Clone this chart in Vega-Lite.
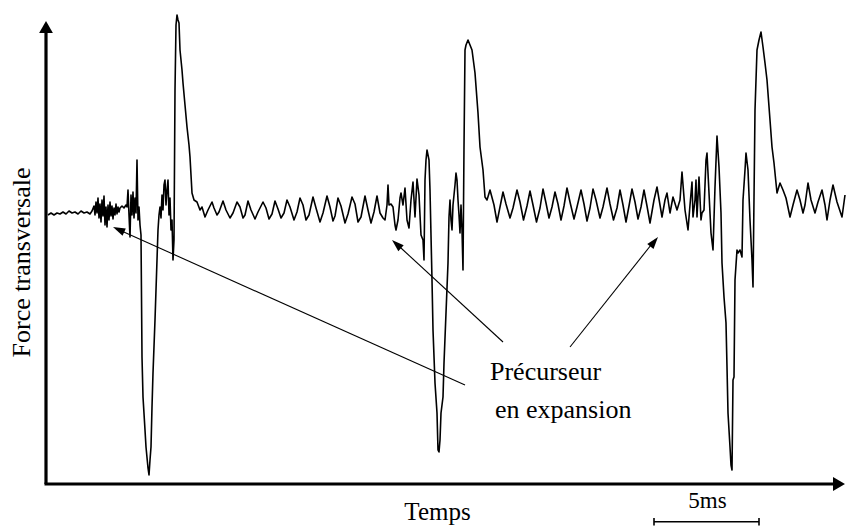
{
 "$schema": "https://vega.github.io/schema/vega-lite/v6.json",
 "width": 847, "height": 527,
 "autosize": {"type": "fit", "contains": "padding"},
 "padding": 0,
 "background": "white",
 "config": {"view": {"stroke": null}, "text": {"font": "'Liberation Serif', 'Times New Roman', serif"}},
 "datasets": {
  "signal": [
   {"t":48,"f":-5},{"t":51,"f":-3},{"t":54,"f":-5},{"t":57,"f":-3},{"t":60,"f":-4},{"t":63,"f":-2},{"t":66,"f":-4},{"t":69,"f":-1},{"t":72,"f":-3},{"t":75,"f":-2},{"t":78,"f":-4},{"t":81,"f":-1},{"t":84,"f":-3},{"t":87,"f":-2},{"t":90,"f":-4},{"t":92,"f":-1},
   {"t":94,"f":4},{"t":95,"f":-5},{"t":96,"f":8},{"t":97,"f":-3},{"t":98,"f":12},{"t":99,"f":-8},{"t":100,"f":6},{"t":101,"f":-12},{"t":102,"f":10},{"t":103,"f":-6},{"t":104,"f":14},{"t":105,"f":-15},{"t":106,"f":3},{"t":107,"f":-17},{"t":108,"f":5},{"t":109,"f":-10},{"t":110,"f":8},{"t":111,"f":-6},{"t":112,"f":4},{"t":113,"f":-9},{"t":114,"f":2},{"t":115,"f":-5},{"t":116,"f":6},{"t":117,"f":-4},{"t":118,"f":3},{"t":119,"f":-2},{"t":120,"f":2},
   {"t":122,"f":4},{"t":124,"f":2},{"t":126,"f":5},
   {"t":127,"f":3},{"t":128,"f":20},{"t":129,"f":-5},{"t":130,"f":-27},{"t":131,"f":15},{"t":132,"f":-5},{"t":133,"f":18},{"t":134,"f":-8},{"t":135,"f":12},{"t":136,"f":-3},{"t":137,"f":50},{"t":138,"f":-10},{"t":139,"f":3},{"t":140,"f":-15},{"t":141,"f":-25},{"t":142,"f":-147},{"t":143,"f":-187},{"t":145,"f":-220},{"t":146,"f":-237},{"t":148,"f":-258},{"t":149,"f":-265},{"t":150,"f":-250},{"t":151,"f":-237},{"t":152,"f":-197},{"t":153,"f":-163},{"t":155,"f":-110},{"t":157,"f":-50},{"t":158,"f":-20},{"t":159,"f":-5},{"t":160,"f":3},{"t":161,"f":-8},{"t":162,"f":15},{"t":163,"f":0},{"t":164,"f":25},{"t":165,"f":30},{"t":166,"f":5},{"t":167,"f":20},{"t":168,"f":30},{"t":169,"f":-5},{"t":170,"f":12},{"t":171,"f":-20},{"t":172,"f":-10},{"t":173,"f":-50},{"t":174,"f":-30},{"t":175,"f":120},{"t":176,"f":185},{"t":177,"f":195},{"t":178,"f":190},{"t":179,"f":187},{"t":180,"f":160},{"t":182,"f":140},{"t":183,"f":127},{"t":185,"f":105},{"t":187,"f":83},{"t":189,"f":65},{"t":190,"f":53},{"t":191,"f":35},{"t":192,"f":17},
   {"t":194,"f":10},{"t":197,"f":8},{"t":200,"f":0},{"t":202,"f":3},{"t":205,"f":-7},{"t":208,"f":0},{"t":212,"f":8},{"t":214,"f":2},{"t":217,"f":-5},{"t":219,"f":-2},{"t":223,"f":9},{"t":226,"f":0},{"t":230,"f":-8},{"t":233,"f":-3},{"t":237,"f":8},{"t":240,"f":3},{"t":243,"f":-8},{"t":245,"f":-5},{"t":248,"f":9},{"t":251,"f":0},{"t":255,"f":-9},{"t":258,"f":-2},{"t":263,"f":8},{"t":266,"f":2},{"t":269,"f":-9},{"t":272,"f":-4},{"t":275,"f":9},{"t":278,"f":1},{"t":281,"f":-8},{"t":284,"f":-3},{"t":287,"f":10},{"t":290,"f":3},{"t":294,"f":-10},{"t":297,"f":-2},
   {"t":300,"f":12},{"t":303,"f":5},{"t":306,"f":-10},{"t":309,"f":-5},{"t":313,"f":13},{"t":316,"f":2},{"t":320,"f":-12},{"t":323,"f":-3},{"t":327,"f":14},{"t":330,"f":3},{"t":333,"f":-11},{"t":335,"f":-6},{"t":338,"f":12},{"t":341,"f":4},{"t":345,"f":-13},{"t":348,"f":-4},{"t":352,"f":13},{"t":355,"f":6},{"t":358,"f":-12},{"t":361,"f":-7},{"t":365,"f":14},{"t":368,"f":0},{"t":371,"f":-13},{"t":374,"f":-2},{"t":377,"f":14},{"t":380,"f":-3},
   {"t":383,"f":-8},{"t":385,"f":-10},{"t":387,"f":5},{"t":388,"f":25},{"t":389,"f":5},{"t":391,"f":6},{"t":393,"f":3},{"t":395,"f":-15},{"t":396,"f":-20},{"t":398,"f":-10},{"t":400,"f":12},{"t":401,"f":17},{"t":403,"f":5},{"t":405,"f":22},{"t":407,"f":-10},{"t":409,"f":-18},{"t":411,"f":10},{"t":413,"f":28},{"t":415,"f":-7},{"t":417,"f":31},{"t":419,"f":15},{"t":421,"f":-25},{"t":423,"f":-30},{"t":424,"f":-50},{"t":425,"f":30},{"t":426,"f":50},{"t":427,"f":60},{"t":429,"f":50},{"t":430,"f":20},{"t":432,"f":-70},{"t":433,"f":-120},{"t":435,"f":-173},{"t":437,"f":-203},{"t":438,"f":-240},{"t":439,"f":-242},{"t":440,"f":-230},{"t":441,"f":-203},{"t":443,"f":-187},{"t":444,"f":-153},{"t":446,"f":-103},{"t":448,"f":-53},{"t":449,"f":-7},{"t":450,"f":10},{"t":451,"f":-10},{"t":452,"f":-20},{"t":453,"f":5},{"t":454,"f":15},{"t":455,"f":25},{"t":456,"f":37},{"t":457,"f":30},{"t":458,"f":10},{"t":459,"f":-5},{"t":460,"f":-23},{"t":461,"f":5},{"t":462,"f":-20},{"t":463,"f":-60},{"t":464,"f":63},{"t":465,"f":160},{"t":466,"f":165},{"t":468,"f":170},{"t":470,"f":165},{"t":472,"f":160},{"t":475,"f":137},{"t":478,"f":97},{"t":480,"f":63},{"t":483,"f":40},{"t":485,"f":13},{"t":487,"f":10},{"t":490,"f":20},
   {"t":494,"f":5},{"t":497,"f":-12},{"t":500,"f":3},{"t":503,"f":18},{"t":506,"f":6},{"t":510,"f":-8},{"t":513,"f":2},{"t":517,"f":20},{"t":520,"f":8},{"t":523.5,"f":-10},{"t":527,"f":4},{"t":530,"f":19},{"t":533,"f":5},{"t":536.5,"f":-12},{"t":540,"f":2},{"t":543,"f":21},{"t":546,"f":7},{"t":549,"f":-8},{"t":552,"f":3},{"t":555,"f":18},{"t":558,"f":6},{"t":561,"f":-10},{"t":564,"f":4},{"t":567,"f":22},{"t":570,"f":8},{"t":574,"f":-9},{"t":577,"f":3},{"t":581,"f":20},{"t":584,"f":6},{"t":587,"f":-11},{"t":590,"f":2},{"t":593,"f":21},{"t":596,"f":10},{"t":600,"f":-8},{"t":603,"f":3},{"t":607,"f":22},{"t":610,"f":6},{"t":613.5,"f":-10},{"t":617,"f":2},{"t":620,"f":20},{"t":623,"f":5},{"t":626,"f":-12},{"t":629,"f":4},{"t":632,"f":21},{"t":635,"f":8},{"t":638,"f":-9},{"t":641,"f":3},{"t":644,"f":20},{"t":647,"f":4},{"t":650,"f":-13},
   {"t":654,"f":10},{"t":657,"f":23},{"t":660,"f":5},{"t":662,"f":-7},{"t":665,"f":10},{"t":667,"f":17},{"t":670,"f":-3},{"t":673,"f":13},{"t":677,"f":0},{"t":680,"f":10},{"t":682,"f":38},{"t":685,"f":0},{"t":688,"f":-20},{"t":690,"f":5},{"t":692,"f":28},{"t":693,"f":-7},{"t":695,"f":10},{"t":696,"f":30},{"t":697,"f":-7},{"t":699,"f":33},{"t":701,"f":-10},{"t":702,"f":-3},{"t":704,"f":0},{"t":706,"f":50},{"t":707,"f":57},{"t":709,"f":17},{"t":711,"f":-23},{"t":713,"f":-40},{"t":715,"f":23},{"t":717,"f":74},{"t":719,"f":43},{"t":721,"f":-3},{"t":722,"f":-53},{"t":724,"f":-87},{"t":726,"f":-113},{"t":727,"f":-157},{"t":728,"f":-203},{"t":730,"f":-237},{"t":731,"f":-255},{"t":732,"f":-260},{"t":733,"f":-170},{"t":734,"f":-167},{"t":735,"f":-70},{"t":737,"f":-40},{"t":738,"f":-43},{"t":740,"f":-40},{"t":742,"f":-47},{"t":743,"f":10},{"t":745,"f":40},{"t":746,"f":57},{"t":748,"f":40},{"t":750,"f":-10},{"t":752,"f":-50},{"t":753,"f":-77},{"t":755,"f":100},{"t":757,"f":160},{"t":759,"f":170},{"t":761,"f":178},{"t":763,"f":163},{"t":765,"f":147},{"t":767,"f":130},{"t":770,"f":90},{"t":772,"f":63},{"t":774,"f":47},{"t":777,"f":17},
   {"t":780,"f":27},{"t":783,"f":20},{"t":786,"f":12},{"t":790,"f":-7},{"t":793,"f":5},{"t":797,"f":20},{"t":800,"f":10},{"t":803,"f":-3},{"t":805,"f":5},{"t":808,"f":27},{"t":811,"f":10},{"t":815,"f":-3},{"t":818,"f":8},{"t":822,"f":20},{"t":825,"f":5},{"t":827,"f":-10},{"t":830,"f":10},{"t":833,"f":25},{"t":837,"f":8},{"t":842,"f":-7},{"t":845,"f":15}
  ],
  "axes": [
   {"t":46,"f":-274,"t2":46,"f2":180},
   {"t":44.5,"f":-274,"t2":836,"f2":-274}
  ],
  "pointers": [
   {"t":116,"f":-18.5,"t2":465,"f2":-175},
   {"t":395,"f":-32.5,"t2":503,"f2":-132},
   {"t":655,"f":-30,"t2":570,"f2":-137}
  ],
  "scalebar": [
   {"t":654,"f":-311.7,"t2":759,"f2":-311.7},
   {"t":654,"f":-308,"t2":654,"f2":-315.5},
   {"t":759,"f":-308,"t2":759,"f2":-315.5}
  ]
 },
 "layer": [
  {
   "data": {"name": "signal"},
   "mark": {"type": "line", "color": "black", "strokeWidth": 1.6, "strokeJoin": "round"},
   "encoding": {
    "x": {"field": "t", "type": "quantitative", "scale": {"domain": [0, 847], "nice": false, "zero": false}, "axis": null},
    "y": {"field": "f", "type": "quantitative", "scale": {"domain": [-317, 210], "nice": false, "zero": false}, "axis": null}
   }
  },
  {
   "data": {"name": "axes"},
   "mark": {"type": "rule", "color": "black", "strokeWidth": 3.2},
   "encoding": {
    "x": {"field": "t", "type": "quantitative", "scale": {"domain": [0, 847], "nice": false, "zero": false}, "axis": null},
    "y": {"field": "f", "type": "quantitative", "scale": {"domain": [-317, 210], "nice": false, "zero": false}, "axis": null},
    "x2": {"field": "t2"}, "y2": {"field": "f2"}
   }
  },
  {
   "data": {"name": "pointers"},
   "mark": {"type": "rule", "color": "black", "strokeWidth": 1.1},
   "encoding": {
    "x": {"field": "t", "type": "quantitative", "scale": {"domain": [0, 847], "nice": false, "zero": false}, "axis": null},
    "y": {"field": "f", "type": "quantitative", "scale": {"domain": [-317, 210], "nice": false, "zero": false}, "axis": null},
    "x2": {"field": "t2"}, "y2": {"field": "f2"}
   }
  },
  {
   "data": {"name": "scalebar"},
   "mark": {"type": "rule", "color": "black", "strokeWidth": 1.6},
   "encoding": {
    "x": {"field": "t", "type": "quantitative", "scale": {"domain": [0, 847], "nice": false, "zero": false}, "axis": null},
    "y": {"field": "f", "type": "quantitative", "scale": {"domain": [-317, 210], "nice": false, "zero": false}, "axis": null},
    "x2": {"field": "t2"}, "y2": {"field": "f2"}
   }
  },
  {
   "data": {"values": [{"t": 46, "f": 183}]},
   "mark": {"type": "point", "shape": "triangle-up", "size": 190, "filled": true, "color": "black", "opacity": 1, "strokeWidth": 0},
   "encoding": {
    "x": {"field": "t", "type": "quantitative", "scale": {"domain": [0, 847], "nice": false, "zero": false}, "axis": null},
    "y": {"field": "f", "type": "quantitative", "scale": {"domain": [-317, 210], "nice": false, "zero": false}, "axis": null}
   }
  },
  {
   "data": {"values": [{"t": 839, "f": -274}]},
   "mark": {"type": "point", "shape": "triangle-right", "size": 190, "filled": true, "color": "black", "opacity": 1, "strokeWidth": 0},
   "encoding": {
    "x": {"field": "t", "type": "quantitative", "scale": {"domain": [0, 847], "nice": false, "zero": false}, "axis": null},
    "y": {"field": "f", "type": "quantitative", "scale": {"domain": [-317, 210], "nice": false, "zero": false}, "axis": null}
   }
  },
  {
   "data": {"values": [{"t": 118.6, "f": -19.5}]},
   "mark": {"type": "point", "shape": "M0,-1L-0.65,1L0.65,1Z", "size": 150, "angle": 294.2, "filled": true, "color": "black", "opacity": 1, "strokeWidth": 0},
   "encoding": {
    "x": {"field": "t", "type": "quantitative", "scale": {"domain": [0, 847], "nice": false, "zero": false}, "axis": null},
    "y": {"field": "f", "type": "quantitative", "scale": {"domain": [-317, 210], "nice": false, "zero": false}, "axis": null}
   }
  },
  {
   "data": {"values": [{"t": 396.5, "f": -34.1}]},
   "mark": {"type": "point", "shape": "M0,-1L-0.65,1L0.65,1Z", "size": 150, "angle": 312.6, "filled": true, "color": "black", "opacity": 1, "strokeWidth": 0},
   "encoding": {
    "x": {"field": "t", "type": "quantitative", "scale": {"domain": [0, 847], "nice": false, "zero": false}, "axis": null},
    "y": {"field": "f", "type": "quantitative", "scale": {"domain": [-317, 210], "nice": false, "zero": false}, "axis": null}
   }
  },
  {
   "data": {"values": [{"t": 654.2, "f": -31.8}]},
   "mark": {"type": "point", "shape": "M0,-1L-0.65,1L0.65,1Z", "size": 150, "angle": 38.7, "filled": true, "color": "black", "opacity": 1, "strokeWidth": 0},
   "encoding": {
    "x": {"field": "t", "type": "quantitative", "scale": {"domain": [0, 847], "nice": false, "zero": false}, "axis": null},
    "y": {"field": "f", "type": "quantitative", "scale": {"domain": [-317, 210], "nice": false, "zero": false}, "axis": null}
   }
  },
  {
   "data": {"values": [{"t": 490, "f": -170, "label": "Précurseur"}, {"t": 495, "f": -208, "label": "en expansion"}]},
   "mark": {"type": "text", "align": "left", "baseline": "alphabetic", "fontSize": 26, "color": "black"},
   "encoding": {
    "x": {"field": "t", "type": "quantitative", "scale": {"domain": [0, 847], "nice": false, "zero": false}, "axis": null},
    "y": {"field": "f", "type": "quantitative", "scale": {"domain": [-317, 210], "nice": false, "zero": false}, "axis": null},
    "text": {"field": "label"}
   }
  },
  {
   "data": {"values": [{"t": 437.5, "f": -310, "label": "Temps"}]},
   "mark": {"type": "text", "align": "center", "baseline": "alphabetic", "fontSize": 25, "color": "black"},
   "encoding": {
    "x": {"field": "t", "type": "quantitative", "scale": {"domain": [0, 847], "nice": false, "zero": false}, "axis": null},
    "y": {"field": "f", "type": "quantitative", "scale": {"domain": [-317, 210], "nice": false, "zero": false}, "axis": null},
    "text": {"field": "label"}
   }
  },
  {
   "data": {"values": [{"t": 707.5, "f": -298, "label": "5ms"}]},
   "mark": {"type": "text", "align": "center", "baseline": "alphabetic", "fontSize": 23, "color": "black"},
   "encoding": {
    "x": {"field": "t", "type": "quantitative", "scale": {"domain": [0, 847], "nice": false, "zero": false}, "axis": null},
    "y": {"field": "f", "type": "quantitative", "scale": {"domain": [-317, 210], "nice": false, "zero": false}, "axis": null},
    "text": {"field": "label"}
   }
  },
  {
   "data": {"values": [{"t": 30, "f": -52.5, "label": "Force transversale"}]},
   "mark": {"type": "text", "align": "center", "baseline": "alphabetic", "angle": 270, "fontSize": 26, "color": "black"},
   "encoding": {
    "x": {"field": "t", "type": "quantitative", "scale": {"domain": [0, 847], "nice": false, "zero": false}, "axis": null},
    "y": {"field": "f", "type": "quantitative", "scale": {"domain": [-317, 210], "nice": false, "zero": false}, "axis": null},
    "text": {"field": "label"}
   }
  }
 ]
}
